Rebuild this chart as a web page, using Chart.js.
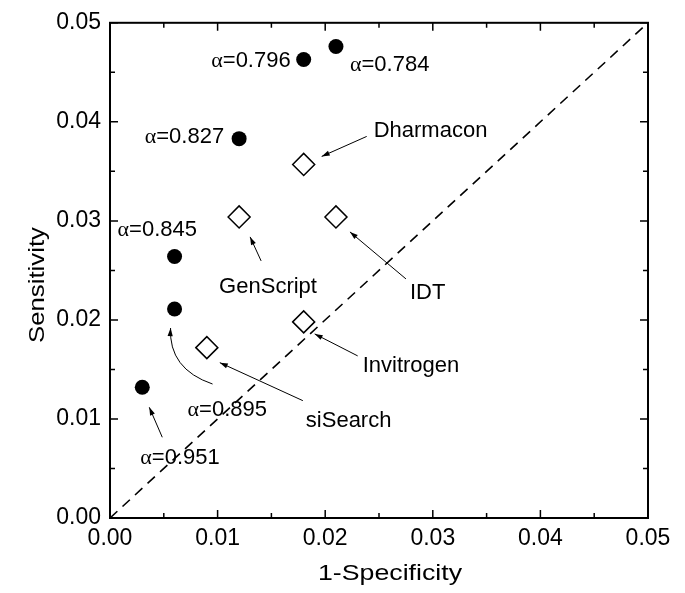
<!DOCTYPE html>
<html>
<head>
<meta charset="utf-8">
<script src="https://cdn.jsdelivr.net/npm/chart.js@4"></script>
<style>
  html, body { margin: 0; padding: 0; background: #fff; }
</style>
</head>
<body>
<canvas id="rocChart" width="685" height="593"></canvas>
<script>
// alpha threshold points (filled circles)
const alphaLabels = ['\u03b1=0.951', '\u03b1=0.895', '\u03b1=0.845', '\u03b1=0.827', '\u03b1=0.796', '\u03b1=0.784'];
const alphaX = [0.003, 0.006, 0.006, 0.012, 0.018, 0.021];
const alphaY = [0.0132, 0.0211, 0.0264, 0.0383, 0.0463, 0.0476];

// siRNA design tools (open diamonds)
const toolNames = ['siSearch', 'Invitrogen', 'GenScript', 'IDT', 'Dharmacon'];
const toolX = [0.009, 0.018, 0.012, 0.021, 0.018];
const toolY = [0.0172, 0.0198, 0.0304, 0.0304, 0.0357];

// chance line
const diagX = [0, 0.05];
const diagY = [0, 0.05];

const xTickLabels = ['0.00', '0.01', '0.02', '0.03', '0.04', '0.05'];
const yTickLabels = ['0.00', '0.01', '0.02', '0.03', '0.04', '0.05'];

// label placement, pixel offsets from the marker
// [textDx, textDy, align, arrowFromDx, arrowFromDy, arrowToDx, arrowToDy, ctrlDx, ctrlDy]
const alphaNotes = [
    [-2, 69, 'left', 20, 50, 7, 20],
    [13, 99, 'left', 38, 75, -4, 19, -6, 60],
    [-57, -29, 'left'],
    [-15, -4, 'right'],
    [-13, 0, 'right'],
    [14, 16, 'left']
];
const toolNotes = [
    [99, 71, 'left', 96, 53, 13, 15],
    [59, 42, 'left', 54, 34, 11, 12],
    [-20, 68, 'left', 22, 44, 11, 20],
    [74, 74, 'left', 70, 62, 14, 15],
    [70, -35, 'left', 63, -28, 18, -8]
];

const SANS = '"Liberation Sans", Arial, sans-serif';
const SERIF = '"Liberation Serif", "Times New Roman", serif';

function arrowHead(ctx, fx, fy, tx, ty) {
    const ang = Math.atan2(ty - fy, tx - fx);
    const len = 8, half = 2.6;
    ctx.beginPath();
    ctx.moveTo(tx, ty);
    ctx.lineTo(tx - len * Math.cos(ang) + half * Math.sin(ang), ty - len * Math.sin(ang) - half * Math.cos(ang));
    ctx.lineTo(tx - len * Math.cos(ang) - half * Math.sin(ang), ty - len * Math.sin(ang) + half * Math.cos(ang));
    ctx.closePath();
    ctx.fill();
}

function drawLabel(ctx, text, x, y, align) {
    // alpha glyph in serif, rest in sans
    ctx.textBaseline = 'alphabetic';
    ctx.textAlign = 'left';
    let parts = [];
    if (text.charAt(0) === '\u03b1') {
        parts.push([SERIF, '\u03b1']);
        parts.push([SANS, text.slice(1)]);
    } else {
        parts.push([SANS, text]);
    }
    let total = 0;
    parts.forEach(p => { ctx.font = '22px ' + p[0]; total += ctx.measureText(p[1]).width; });
    let cx = align === 'right' ? x - total : x;
    parts.forEach(p => {
        ctx.font = '22px ' + p[0];
        ctx.fillText(p[1], cx, y + 8);
        cx += ctx.measureText(p[1]).width;
    });
}

function drawNotes(ctx, xs, ys, labels, notes, sx, sy) {
    labels.forEach((lab, i) => {
        const px = sx.getPixelForValue(xs[i]);
        const py = sy.getPixelForValue(ys[i]);
        const n = notes[i];
        drawLabel(ctx, lab, px + n[0], py + n[1], n[2]);
        if (n.length >= 7) {
            const fx = px + n[3], fy = py + n[4];
            const tx = px + n[5], ty = py + n[6];
            ctx.beginPath();
            ctx.moveTo(fx, fy);
            let hx = fx, hy = fy;
            if (n.length >= 9) {
                const qx = px + n[7], qy = py + n[8];
                ctx.quadraticCurveTo(qx, qy, tx, ty);
                hx = qx; hy = qy;
            } else {
                ctx.lineTo(tx, ty);
            }
            ctx.stroke();
            arrowHead(ctx, hx, hy, tx, ty);
        }
    });
}

// text stretched along its run to a given width (the original titles are wide)
function stretchedText(ctx, text, cx, baseY, width, rot) {
    ctx.save();
    ctx.translate(cx, baseY);
    ctx.rotate(rot);
    ctx.font = '22px ' + SANS;
    const w = ctx.measureText(text).width;
    ctx.scale(width / w, 1);
    ctx.textAlign = 'center';
    ctx.textBaseline = 'alphabetic';
    ctx.fillText(text, 0, 0);
    ctx.restore();
}

const framePlugin = {
    id: 'frame',
    afterDatasetsDraw(chart) {
        const ctx = chart.ctx;
        const a = chart.chartArea;
        const sx = chart.scales.x, sy = chart.scales.y;
        ctx.save();
        ctx.strokeStyle = '#000';
        ctx.fillStyle = '#000';

        // inward ticks on all four sides
        ctx.lineWidth = 1.5;
        for (let k = 0; k <= 10; k++) {
            const v = k * 0.005;
            const len = k % 2 === 0 ? 8 : 5;
            const x = sx.getPixelForValue(v);
            const y = sy.getPixelForValue(v);
            ctx.beginPath();
            ctx.moveTo(x, a.bottom); ctx.lineTo(x, a.bottom - len);
            ctx.moveTo(x, a.top); ctx.lineTo(x, a.top + len);
            ctx.moveTo(a.left, y); ctx.lineTo(a.left + len, y);
            ctx.moveTo(a.right, y); ctx.lineTo(a.right - len, y);
            ctx.stroke();
        }
        ctx.lineWidth = 2;
        ctx.strokeRect(a.left, a.top, a.right - a.left, a.bottom - a.top);

        // annotations
        ctx.lineWidth = 1;
        drawNotes(ctx, alphaX, alphaY, alphaLabels, alphaNotes, sx, sy);
        drawNotes(ctx, toolX, toolY, toolNames, toolNotes, sx, sy);
        ctx.restore();

        // axis titles
        stretchedText(ctx, '1-Specificity', 390, 580, 144, 0);
        stretchedText(ctx, 'Sensitivity', 44, 285, 116, -Math.PI / 2);
    }
};

new Chart(document.getElementById('rocChart'), {
    type: 'scatter',
    data: {
        datasets: [
            {
                label: 'alpha',
                data: alphaX.map((x, i) => ({ x: x, y: alphaY[i] })),
                pointStyle: 'circle',
                pointRadius: 7.5,
                backgroundColor: '#000',
                borderColor: '#000',
                borderWidth: 0,
                order: 1
            },
            {
                label: 'tools',
                data: toolX.map((x, i) => ({ x: x, y: toolY[i] })),
                pointStyle: 'rectRot',
                pointRadius: 11,
                backgroundColor: '#fff',
                borderColor: '#000',
                borderWidth: 1.5,
                order: 0
            },
            {
                type: 'line',
                label: 'diagonal',
                data: diagX.map((x, i) => ({ x: x, y: diagY[i] })),
                borderColor: '#000',
                borderWidth: 1.6,
                borderDash: [10, 7],
                pointRadius: 0,
                fill: false,
                order: 2
            }
        ]
    },
    options: {
        responsive: false,
        animation: false,
        layout: { padding: { left: 0, top: 20, right: 37, bottom: 0 } },
        plugins: {
            legend: { display: false },
            tooltip: { enabled: false }
        },
        scales: {
            x: {
                type: 'linear',
                min: 0,
                max: 0.05,
                afterFit: (s) => { s.height = 75; },
                grid: { display: false, drawTicks: false },
                border: { display: false },
                ticks: {
                    stepSize: 0.01,
                    padding: 7,
                    color: '#000',
                    font: { family: SANS, size: 23 },
                    callback: (v, i) => xTickLabels[i]
                }
            },
            y: {
                type: 'linear',
                min: 0,
                max: 0.05,
                afterFit: (s) => { s.width = 110; },
                grid: { display: false, drawTicks: false },
                border: { display: false },
                ticks: {
                    stepSize: 0.01,
                    padding: 9,
                    color: '#000',
                    font: { family: SANS, size: 23 },
                    callback: (v, i) => yTickLabels[i]
                }
            }
        }
    },
    plugins: [framePlugin]
});
</script>
</body>
</html>
